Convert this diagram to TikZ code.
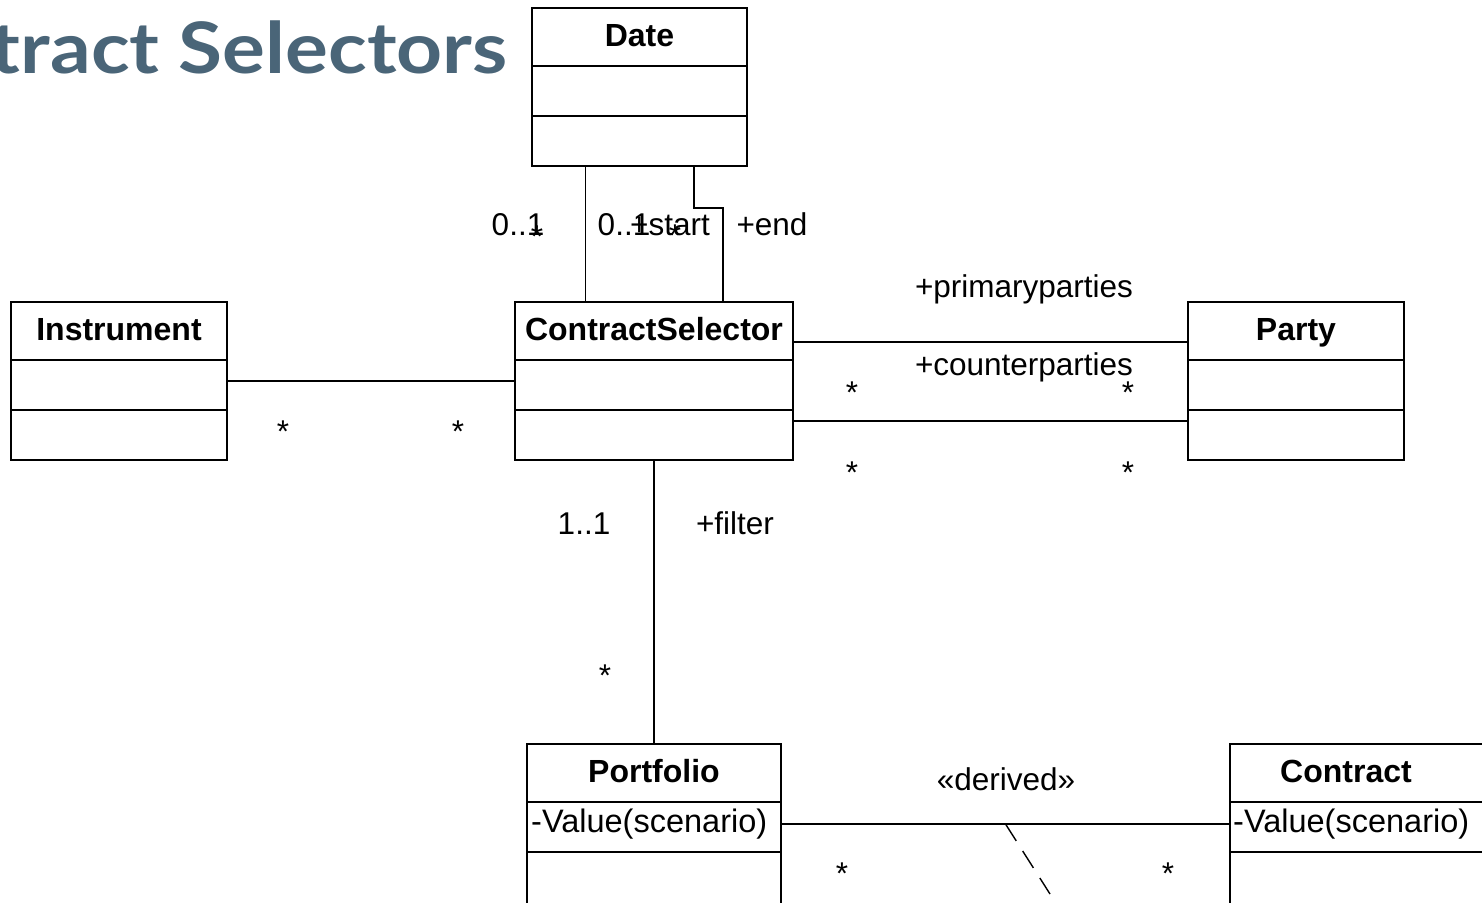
\documentclass[tikz,border=0pt]{standalone}
\usepackage{fontspec}
\setmainfont{Liberation Sans}
\newfontfamily\titlefont{Lato}
\usetikzlibrary{positioning, calc}
\definecolor{titleblue}{RGB}{74,101,120}

\begin{document}
\begin{tikzpicture}[
  x=1pt, y=-1pt,
  classbox/.style={draw, line width=2.2pt, inner sep=0pt, outer sep=0pt, anchor=north west},
  classname/.style={font=\bfseries\fontsize{32}{36}\selectfont, anchor=base, inner sep=0pt},
  member/.style={font=\fontsize{32.5}{36}\selectfont, anchor=base west, inner sep=0pt},
  role/.style={font=\fontsize{31.5}{36}\selectfont, anchor=base, inner sep=0pt},
  assoc/.style={line width=1.4pt}
]
\clip (0,0) rectangle (1482,902);

% Title (runs off the left edge)
\node[font=\titlefont\bfseries\fontsize{71}{80}\selectfont, text=titleblue, anchor=base east, inner sep=0pt] (title) at (508,73) {\scalebox{1.13}[1]{tract Selectors}};

% Classes: name / x / y / width / height / name shift / text
\foreach \cls/\px/\py/\w/\h/\nx/\cname in {
  date/532/8/215/158/0/Date,
  instr/11/302/216/158/0/Instrument,
  sel/515/302/278/158/0/ContractSelector,
  party/1188/302/216/158/0/Party,
  port/527/744/254/160/0/Portfolio,
  contract/1230/744/254/160/-11/Contract}{
  \node[classbox, minimum width=\w pt, minimum height=\h pt] (\cls) at (\px,\py) {};
  \node[classname] (\cls-name) at ([xshift=\nx pt, yshift=-38pt]\cls.north) {\cname};
  \draw[line width=2.2pt] ([yshift=-58pt]\cls.north west) -- ([yshift=-58pt]\cls.north east);
  \draw[line width=2.2pt] ([yshift=-108pt]\cls.north west) -- ([yshift=-108pt]\cls.north east);
}
\node[member] (port-value) at ([xshift=4pt, yshift=-88pt]port.north west) {-Value(scenario)};
\node[member] (contract-value) at ([xshift=3pt, yshift=-88pt]contract.north west) {-Value(scenario)};

% Date -- ContractSelector
\coordinate (startx) at (585.5,0);
\coordinate (endx) at (694,0);
\coordinate (endbend) at (723,208);
\draw[assoc] (date.south -| startx) -- (sel.north -| startx);
\draw[assoc] (date.south -| endx) |- (endbend) -- (sel.north -| endbend);
\node[role] (start-lo) at (518,235) {0..1};
\node[role] (start-hi) at (537,247) {*};
\node[role] (end-lo) at (624,235) {0..1};
\node[role] (start-role) at (670,235) {+start};
\node[role] (end-hi) at (675,246) {*};
\node[role] (end-role) at (772,235) {+end};

% Instrument -- ContractSelector
\draw[assoc] (instr.east) -- (sel.west);
\node[role] (instr-mult) at (283,442) {*};
\node[role] (sel-mult) at (458,442) {*};

% ContractSelector -- Party
\draw[assoc] ([yshift=39pt]sel.east) -- ([yshift=39pt]party.west);
\draw[assoc] ([yshift=-40pt]sel.east) -- ([yshift=-40pt]party.west);
\node[role] (primary-role) at (1024,297) {+primaryparties};
\node[role] (counter-role) at (1024,375) {+counterparties};
\node[role] (primary-lo) at (852,403) {*};
\node[role] (primary-hi) at (1128,403) {*};
\node[role] (counter-lo) at (852,483) {*};
\node[role] (counter-hi) at (1128,483) {*};

% ContractSelector -- Portfolio
\draw[assoc] (sel.south) -- (port.north);
\node[role] (filter-lo) at (584,534) {1..1};
\node[role] (filter-role) at (735,534) {+filter};
\node[role] (filter-hi) at (605,686) {*};

% Portfolio -- Contract
\draw[assoc] (port.east) -- (contract.west);
\node[role] (derived) at (1006,790) {«derived»};
\node[role] (port-mult) at (842,884) {*};
\node[role] (contract-mult) at (1168,884) {*};
\coordinate (derivedtail) at (1050,894);
\draw[assoc, dash pattern=on 20pt off 12pt] ($(port.east)!.5!(contract.west)$) -- (derivedtail);

\end{tikzpicture}
\end{document}
